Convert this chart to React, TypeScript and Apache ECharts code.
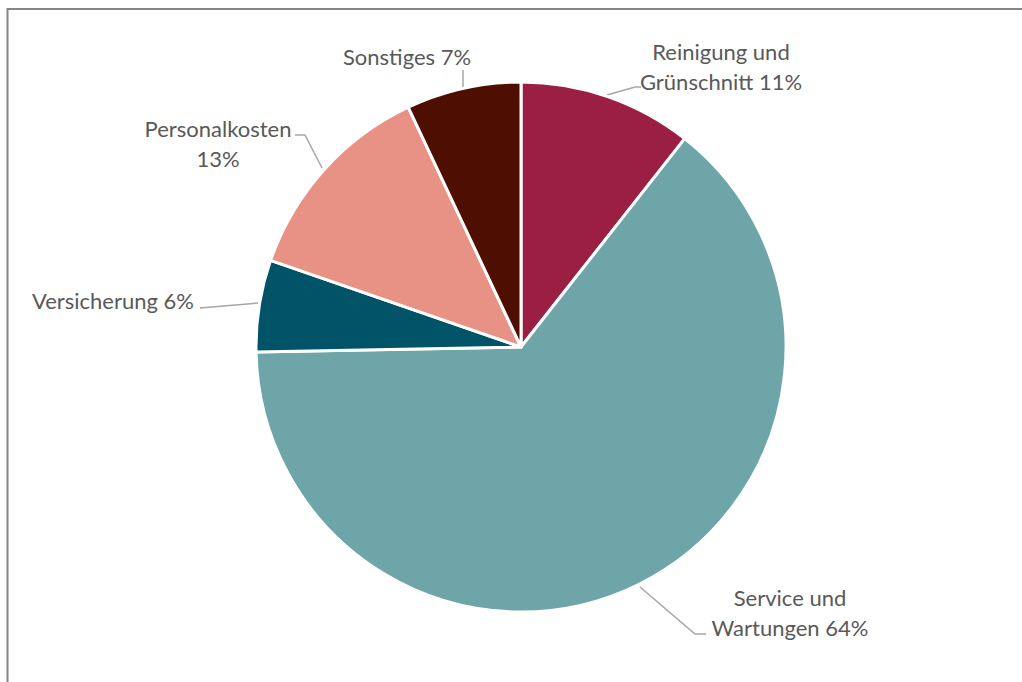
import React, { useEffect, useRef } from "react";
import * as echarts from "echarts";

// Data
const categories = [
  "Reinigung und\nGrünschnitt",
  "Service und\nWartungen",
  "Versicherung",
  "Personalkosten\n",
  "Sonstiges",
];
const shares = [10.6, 64.1, 5.6, 12.7, 7.0];
const colors = ["#9B1F42", "#6DA5A8", "#015468", "#E89286", "#4E0F00"];

// Label placement (layout, not data)
const labelAnchors: { x: number; y: number; align: string; line: number[][] }[] = [
  { x: 721, y: 66, align: "center", line: [[607, 95], [635, 87], [641, 87]] },
  { x: 790, y: 612, align: "center", line: [[640, 587], [695, 634], [706, 634]] },
  { x: 113, y: 300, align: "center", line: [[258, 303], [200, 308], [200, 308]] },
  { x: 218, y: 143, align: "center", line: [[322, 168], [305, 135], [295, 135]] },
  { x: 407, y: 56, align: "center", line: [[463, 87], [463, 70], [463, 70]] },
];

export default function App() {
  const ref = useRef<HTMLDivElement>(null);
  useEffect(() => {
    if (!ref.current) return;
    const chart = echarts.init(ref.current, null, { renderer: "svg" });
    const total = shares.reduce((a, b) => a + b, 0);
    chart.setOption({
      animation: false,
      backgroundColor: "#ffffff",
      graphic: [
        {
          type: "line",
          shape: { x1: 7, y1: 9, x2: 1022, y2: 9 },
          style: { stroke: "#868686", lineWidth: 2 },
        },
        {
          type: "line",
          shape: { x1: 7.5, y1: 8, x2: 7.5, y2: 682 },
          style: { stroke: "#868686", lineWidth: 2 },
        },
      ],
      series: [
        {
          type: "pie",
          center: [521, 347],
          radius: [0, 265],
          startAngle: 90,
          clockwise: true,
          avoidLabelOverlap: false,
          percentPrecision: 2,
          itemStyle: { borderColor: "#ffffff", borderWidth: 3 },
          label: {
            show: true,
            position: "outside",
            color: "#595959",
            fontFamily: "Lato",
            fontSize: 22,
            lineHeight: 30,
            formatter: (p: any) => {
              const pct = Math.round((p.value / total) * 100);
              const sep = p.name.endsWith("\n") ? "" : " ";
              return p.name + sep + pct + "%";
            },
          },
          labelLine: {
            show: true,
            lineStyle: { color: "#A6A6A6", width: 1.5 },
          },
          labelLayout: (params: any) => {
            const a = labelAnchors[params.dataIndex];
            return {
              x: a.x,
              y: a.y,
              align: a.align,
              verticalAlign: "middle",
              labelLinePoints: a.line,
            };
          },
          data: categories.map((name, i) => ({
            name,
            value: shares[i],
            itemStyle: { color: colors[i] },
          })),
        },
      ],
    });
    return () => chart.dispose();
  }, []);
  return (
    <div
      ref={ref}
      style={{ position: "fixed", left: 0, top: 0, width: 1022, height: 682 }}
    />
  );
}
